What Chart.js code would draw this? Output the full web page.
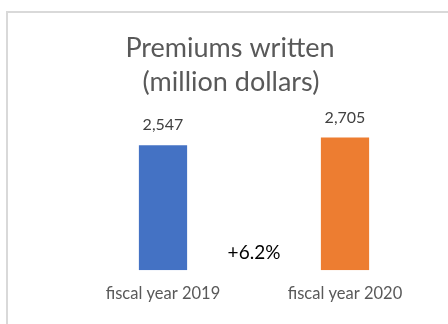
<!DOCTYPE html>
<html>
<head>
<meta charset="utf-8">
<script src="https://cdn.jsdelivr.net/npm/chart.js@4"></script>
<style>
  body { margin: 0; background: #fff; }
  #wrap { position: relative; width: 448px; height: 324px; overflow: hidden; }
  #frame { position: absolute; left: 6px; top: 11px; width: 460px; height: 330px;
           border-top: 2px solid #d9d9d9; border-left: 2px solid #d9d9d9; }
  #premiumChart { position: absolute; left: 0; top: 0; }
</style>
</head>
<body>
<div id="wrap">
  <div id="frame"></div>
  <canvas id="premiumChart" width="448" height="324"></canvas>
</div>
<script>
// Premiums written chart

const categories = ['fiscal year 2019', 'fiscal year 2020'];
const premiums = [2547, 2705];
const barColors = ['#4472c4', '#ed7d31'];
const titleLines = ['Premiums written', '(million dollars)'];
const growthLabel = '+6.2%';

// title, value labels above each bar + growth note between the bars
const barLabels = {
  id: 'barLabels',
  afterDatasetsDraw(chart) {
    const ctx = chart.ctx;
    const meta = chart.getDatasetMeta(0);
    ctx.save();
    ctx.textAlign = 'center';
    ctx.textBaseline = 'alphabetic';

    // title (centred over the whole frame, not the plot)
    ctx.font = '27px Lato';
    ctx.fillStyle = '#595959';
    ctx.fillText(titleLines[0], 230, 57);
    ctx.fillText(titleLines[1], 231, 91);

    ctx.font = '16px Lato';
    ctx.fillStyle = '#404040';
    meta.data.forEach((bar, i) => {
      ctx.fillText(premiums[i].toLocaleString('en-US'), bar.x, bar.y - 15);
    });

    // growth note
    const xs = chart.scales.x;
    const ys = chart.scales.y;
    ctx.font = '19px Lato';
    ctx.fillStyle = '#000';
    ctx.fillText(growthLabel, xs.getPixelForValue(0.5), ys.getPixelForValue(0) - 11);
    ctx.restore();
  }
};

new Chart(document.getElementById('premiumChart').getContext('2d'), {
  type: 'bar',
  data: {
    labels: categories,
    datasets: [{
      data: premiums,
      backgroundColor: barColors,
      barPercentage: 0.53,
      categoryPercentage: 0.5
    }]
  },
  options: {
    responsive: false,
    animation: false,
    layout: { padding: { left: 72, right: 12, top: 128, bottom: 6 } },
    plugins: {
      legend: { display: false },
      tooltip: { enabled: false },
      title: { display: false }
    },
    scales: {
      x: {
        grid: { display: false, drawTicks: false },
        border: { display: false },
        ticks: { color: '#595959', font: { family: 'Lato', size: 16.5 }, padding: 14 }
      },
      y: {
        display: false,
        min: 0,
        max: 2900
      }
    }
  },
  plugins: [barLabels]
});
</script>
</body>
</html>
